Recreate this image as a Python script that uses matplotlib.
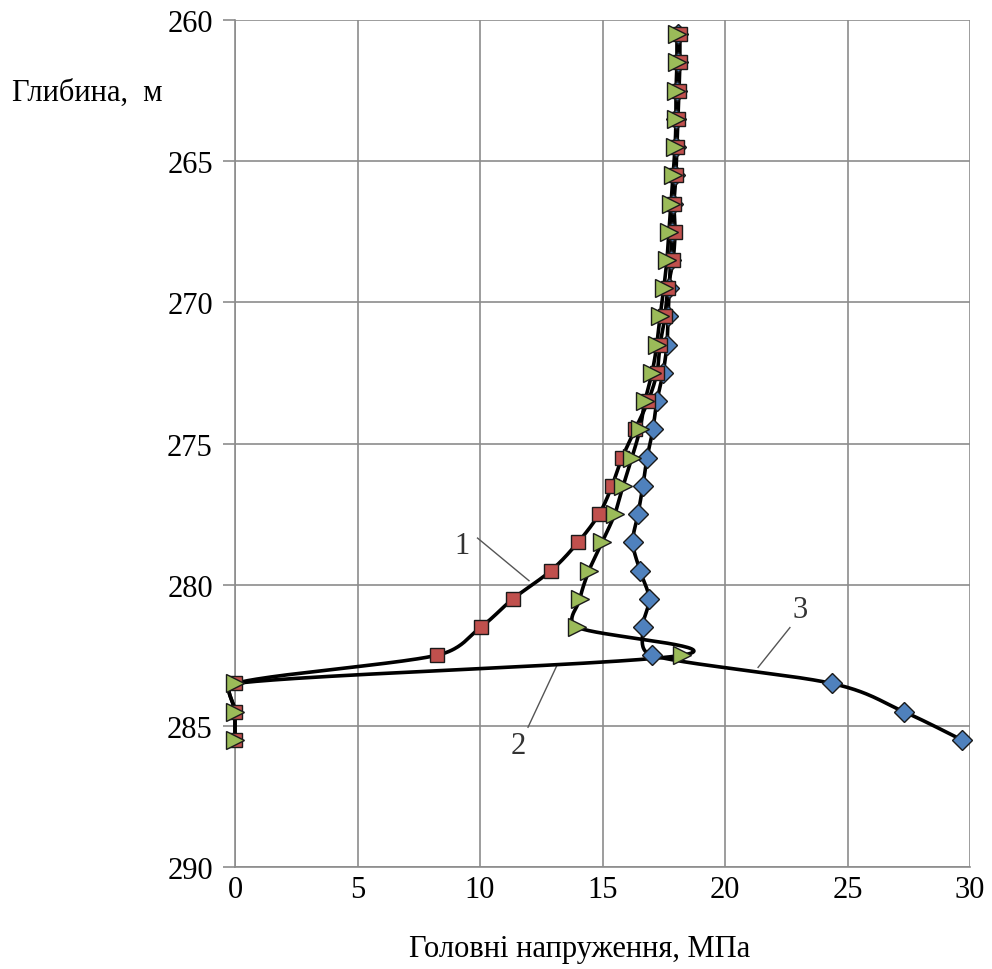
import numpy as np
import matplotlib
matplotlib.use("Agg")
import matplotlib.pyplot as plt

# Depth of each computation point, m
depth = [260.5, 261.5, 262.5, 263.5, 264.5, 265.5, 266.5, 267.5, 268.5,
         269.5, 270.5, 271.5, 272.5, 273.5, 274.5, 275.5, 276.5, 277.5,
         278.5, 279.5, 280.5, 281.5, 282.5, 283.5, 284.5, 285.5]

# Principal stresses, MPa
stress_1 = [18.16, 18.16, 18.12, 18.08, 18.04, 18.00, 17.92, 17.96, 17.88,
            17.67, 17.55, 17.35, 17.22, 16.86, 16.33, 15.80, 15.39, 14.86,
            14.00, 12.90, 11.35, 10.04, 8.24, 0.0, 0.0, 0.0]
stress_2 = [18.04, 18.04, 18.00, 18.00, 17.96, 17.88, 17.80, 17.71, 17.63,
            17.50, 17.35, 17.22, 17.02, 16.73, 16.53, 16.20, 15.84, 15.50,
            14.98, 14.45, 14.08, 13.96, 18.24, 0.0, 0.0, 0.0]
stress_3 = [18.10, 18.08, 18.05, 18.02, 17.98, 17.94, 17.88, 17.84, 17.78,
            17.72, 17.68, 17.63, 17.47, 17.22, 17.06, 16.82, 16.65, 16.45,
            16.24, 16.53, 16.90, 16.65, 17.02, 24.37, 27.30, 29.67]

x_ticks = [0, 5, 10, 15, 20, 25, 30]
y_ticks = [260, 265, 270, 275, 280, 285, 290]

plt.rcParams['font.family'] = ['Liberation Serif', 'DejaVu Serif']

W, H = 992, 970
AX_L, AX_R, AX_T, AX_B = 235, 970, 21, 868
X_MIN, X_MAX, Y_MIN, Y_MAX = 0, 30, 260, 290
SX = (AX_R - AX_L) / (X_MAX - X_MIN)   # px per MPa
SY = (AX_B - AX_T) / (Y_MAX - Y_MIN)   # px per m


def smooth(xs, ys, n=40, limit=0.5):
    """Catmull-Rom style Bezier smoothing in screen space; each control arm
    is capped at a fraction of the segment it belongs to."""
    p = np.column_stack([np.asarray(xs) * SX, np.asarray(ys) * SY]).astype(float)
    m = len(p)
    cin = np.zeros_like(p)
    cout = np.zeros_like(p)
    for i in range(m):
        prv = p[i - 1] if i > 0 else p[i]
        nxt = p[i + 1] if i < m - 1 else p[i]
        arm = (nxt - prv) / 6.0
        alen = np.hypot(*arm)
        d0 = np.hypot(*(p[i] - prv))
        d1 = np.hypot(*(nxt - p[i]))
        a_in = arm * min(1.0, limit * d0 / alen) if alen > 0 else arm
        a_out = arm * min(1.0, limit * d1 / alen) if alen > 0 else arm
        cin[i] = p[i] - a_in
        cout[i] = p[i] + a_out
    t = np.linspace(0, 1, n)[:, None]
    out = []
    for i in range(m - 1):
        a, b, c, d = p[i], cout[i], cin[i + 1], p[i + 1]
        seg = ((1 - t) ** 3) * a + 3 * ((1 - t) ** 2) * t * b \
            + 3 * (1 - t) * t ** 2 * c + t ** 3 * d
        out.append(seg if i == 0 else seg[1:])
    s = np.vstack(out)
    return s[:, 0] / SX, s[:, 1] / SY


fig = plt.figure(figsize=(W / 100, H / 100), dpi=100)
ax = fig.add_axes([AX_L / W, 1 - AX_B / H, (AX_R - AX_L) / W,
                   (AX_B - AX_T) / H])

series = [
    (stress_3, 'D', '#4F81BD', 10.5),
    (stress_1, 's', '#C0504D', 10.5),
    (stress_2, '>', '#9BBB59', 13),
]
for vals, mk, col, ms in series:
    sx, sy = smooth(vals, depth)
    ax.plot(sx, sy, color='black', lw=2.6, solid_capstyle='round',
            zorder=3, clip_on=False)
    ax.plot(vals, depth, linestyle='none', marker=mk, markersize=ms,
            markerfacecolor=col, markeredgecolor='#1a1a1a',
            markeredgewidth=1.0, zorder=4, clip_on=False)

ax.set_xlim(X_MIN, X_MAX)
ax.set_ylim(Y_MAX, Y_MIN)
ax.set_xticks(x_ticks)
ax.set_yticks(y_ticks)
ax.grid(True, color='#8c8c8c', lw=1.2)
ax.set_axisbelow(True)
for side in ['top', 'right']:
    ax.spines[side].set_visible(False)
for side in ['left', 'bottom']:
    ax.spines[side].set_color('#8c8c8c')
    ax.spines[side].set_linewidth(1.2)
ax.tick_params(axis='y', length=9, width=1.2, color='#8c8c8c', pad=7,
               labelsize=22)
ax.tick_params(axis='x', length=0, pad=6, labelsize=22)

# Curve labels with leader lines
leader_kw = dict(color='#555555', lw=1.0, zorder=2)
ax.plot([9.9, 12.0], [278.35, 279.86], **leader_kw)
ax.text(9.27, 278.6, '1', fontsize=22, ha='center', va='center',
        color='#333333')
ax.plot([11.96, 13.14], [285.05, 282.86], **leader_kw)
ax.text(11.55, 285.7, '2', fontsize=22, ha='center', va='center',
        color='#333333')
ax.plot([22.65, 21.35], [281.52, 282.93], **leader_kw)
ax.text(23.06, 280.88, '3', fontsize=22, ha='center', va='center',
        color='#333333')

fig.text(12 / W, 1 - 93 / H, 'Глибина,  м', fontsize=22,
         ha='left', va='center')
fig.text(580 / W, 1 - 950 / H, 'Головні напруження, МПа', fontsize=22,
         ha='center', va='center')

fig.savefig('out.png', dpi=100, facecolor='white')
